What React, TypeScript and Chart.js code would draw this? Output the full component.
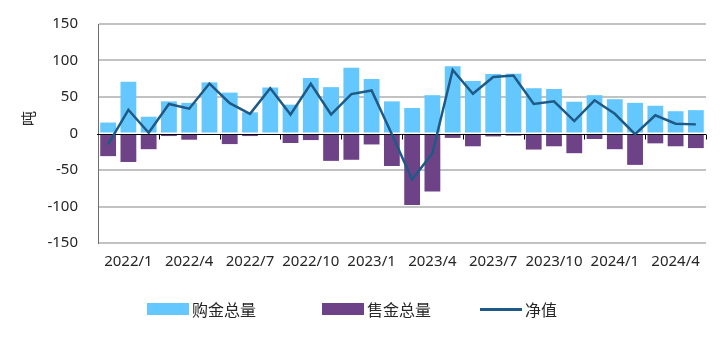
import React, { useEffect, useRef } from 'react';
import { Chart, registerables } from 'chart.js';

Chart.register(...registerables);

// Months 2022/1 – 2024/6
const months = [
  '2022/1', '2022/2', '2022/3', '2022/4', '2022/5', '2022/6',
  '2022/7', '2022/8', '2022/9', '2022/10', '2022/11', '2022/12',
  '2023/1', '2023/2', '2023/3', '2023/4', '2023/5', '2023/6',
  '2023/7', '2023/8', '2023/9', '2023/10', '2023/11', '2023/12',
  '2024/1', '2024/2', '2024/3', '2024/4', '2024/5', '2024/6',
];

const xTickLabels = [
  '2022/1', '2022/4', '2022/7', '2022/10', '2023/1',
  '2023/4', '2023/7', '2023/10', '2024/1', '2024/4',
];

const buyTotal = [
  15, 71, 23, 44, 42, 70, 56, 29, 63, 39.5,
  76, 63.5, 90, 74.5, 44, 35, 52.5, 92, 72, 81.5,
  82, 62, 61, 43.5, 52.5, 47, 42, 38, 30.5, 32,
];

const sellTotal = [
  -31, -39, -21.5, -3.5, -8.5, -2, -14.5, -3.5, -2, -13,
  -9, -37.5, -36, -15, -44.5, -98, -79.5, -6, -17.5, -4,
  -3, -22, -17.5, -27, -7.5, -21.5, -43, -13.5, -17.5, -20,
];

const netValue = [
  -15, 32.5, 1, 40.5, 34, 68.5, 41.5, 27, 62, 26,
  68, 26, 54, 59, -1, -63, -27, 87, 54.5, 77.5,
  79.5, 40.5, 44, 17, 45.5, 27, -1, 25, 13.5, 12.5,
];

const seriesNames = ['购金总量', '售金总量', '净值'];

const BLUE = '#64C7FE';
const PURPLE = '#6E4287';
const LINE = '#1F5A86';
const TEXT = '#262626';
const FONT = "'Noto Sans', 'Noto Sans CJK SC', sans-serif";

const zeroLinePlugin = {
  id: 'zeroLineTicks',
  beforeDatasetDraw(chart: any, args: any) {
    if (args.index !== 2) return;
    const { ctx, chartArea, scales } = chart;
    const xs = scales.x;
    const y0 = Math.round(scales.y.getPixelForValue(0)) + 0.5;
    const w = xs.getPixelForValue(1) - xs.getPixelForValue(0);
    ctx.save();
    ctx.strokeStyle = '#000';
    ctx.lineWidth = 1;
    ctx.beginPath();
    ctx.moveTo(chartArea.left - 1, y0);
    ctx.lineTo(chartArea.right, y0);
    for (let i = 3; i <= months.length; i += 3) {
      const px = Math.round(
        i < months.length ? xs.getPixelForValue(i) - w / 2 : xs.getPixelForValue(months.length - 1) + w / 2
      ) + 0.5;
      ctx.moveTo(px, y0);
      ctx.lineTo(px, y0 + 5);
    }
    ctx.stroke();
    ctx.restore();
  },
};

export default function App() {
  const ref = useRef<HTMLCanvasElement>(null);

  useEffect(() => {
    if (!ref.current) return;
    const chart = new Chart(ref.current, {
      type: 'bar',
      data: {
        labels: months,
        datasets: [
          {
            type: 'bar',
            label: seriesNames[0],
            data: buyTotal,
            backgroundColor: BLUE,
            borderWidth: 0,
            grouped: false,
            categoryPercentage: 1,
            barPercentage: 0.78,
          } as any,
          {
            type: 'bar',
            label: seriesNames[1],
            data: sellTotal,
            backgroundColor: PURPLE,
            borderWidth: 0,
            grouped: false,
            categoryPercentage: 1,
            barPercentage: 0.78,
          } as any,
          {
            type: 'line',
            label: seriesNames[2],
            data: netValue,
            borderColor: LINE,
            backgroundColor: LINE,
            borderWidth: 2.5,
            pointRadius: 0,
            tension: 0,
            order: -1,
          } as any,
        ],
      },
      options: {
        responsive: false,
        animation: false,
        layout: { padding: { top: 24, right: 19, left: 0, bottom: 0 } },
        plugins: {
          legend: { display: false },
          tooltip: { enabled: false },
        },
        scales: {
          x: {
            type: 'category',
            offset: true,
            grid: { display: false },
            border: { display: false },
            ticks: {
              autoSkip: false,
              maxRotation: 0,
              minRotation: 0,
              padding: 2,
              color: TEXT,
              font: { family: FONT, size: 15 },
              callback: (_v: any, i: number) => (i % 3 === 1 ? xTickLabels[(i - 1) / 3] : ''),
            },
            afterFit: (s: any) => {
              s.height = 98;
            },
          },
          y: {
            min: -150,
            max: 150,
            ticks: {
              stepSize: 50,
              padding: 0,
              color: TEXT,
              font: { family: FONT, size: 15 },
            },
            grid: {
              drawTicks: true,
              tickLength: 20,
              tickColor: 'rgba(0,0,0,0)',
              color: (c: any) => (c.tick && c.tick.value === 0 ? 'rgba(0,0,0,0)' : '#C2C2C2'),
              lineWidth: 2,
            },
            border: { display: true, color: '#6E6E6E', width: 1 },
            title: {
              display: true,
              text: '\u3000\u3000吨',
              color: TEXT,
              font: { family: FONT, size: 15 },
              padding: { top: 21, bottom: 0 },
            },
            afterFit: (s: any) => {
              s.width = 98;
            },
          },
        },
      },
      plugins: [zeroLinePlugin],
    });
    return () => chart.destroy();
  }, []);

  const legendItems = [
    { name: seriesNames[0], color: BLUE, kind: 'box', left: 147 },
    { name: seriesNames[1], color: PURPLE, kind: 'box', left: 322 },
    { name: seriesNames[2], color: LINE, kind: 'line', left: 480 },
  ];

  return (
    <div style={{ position: 'absolute', left: 0, top: 0, width: 725, height: 341, background: '#fff' }}>
      <canvas ref={ref} width={725} height={341} style={{ display: 'block' }} />
      {legendItems.map((it) => (
        <div
          key={it.name}
          style={{
            position: 'absolute',
            left: it.left,
            top: 299,
            height: 20,
            display: 'flex',
            alignItems: 'center',
          }}
        >
          <div
            style={{
              width: 42,
              height: it.kind === 'box' ? 12 : 3,
              background: it.color,
            }}
          />
          <span
            style={{
              marginLeft: 3,
              fontSize: 16,
              lineHeight: '20px',
              color: TEXT,
              fontFamily: "'Noto Sans CJK SC', 'Noto Sans', sans-serif",
            }}
          >
            {it.name}
          </span>
        </div>
      ))}
    </div>
  );
}
